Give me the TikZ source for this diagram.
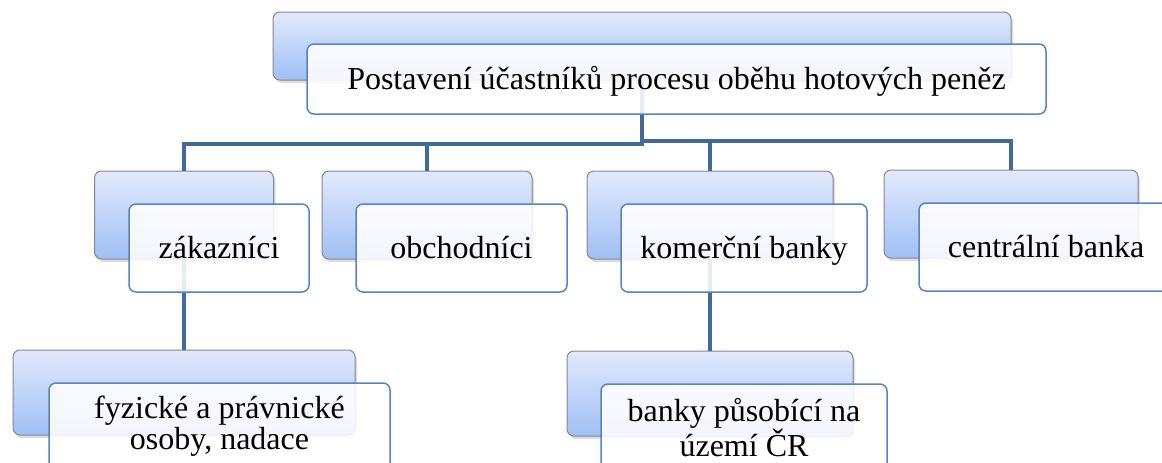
\documentclass[tikz,border=0pt]{standalone}
\usepackage{fontspec}
\setmainfont{Liberation Serif}
\usetikzlibrary{shadows}

\definecolor{linkblue}{RGB}{65,105,155}
\definecolor{frameblue}{RGB}{84,132,196}
\definecolor{gradtop}{RGB}{225,234,252}
\definecolor{gradbot}{RGB}{160,191,245}
\definecolor{backframe}{RGB}{135,135,140}

\tikzset{
  backbox/.style={rectangle, rounded corners=7pt, draw=backframe, line width=1pt,
    top color=gradtop, bottom color=gradbot, inner sep=0pt, outer sep=0pt,
    drop shadow={shadow xshift=2pt, shadow yshift=-3pt, opacity=0.28}},
  frontbox/.style={rectangle, rounded corners=7pt, draw=frameblue, line width=1.5pt,
    fill=white, fill opacity=0.88, text opacity=1, inner sep=0pt, outer sep=0pt,
    font=\fontsize{32}{31}\selectfont, align=center},
  oneline/.style={text height=22pt, text depth=1pt},
  conn/.style={draw=linkblue, line width=4.5pt},
}

\begin{document}
\begin{tikzpicture}[x=1pt, y=-1pt]
  \useasboundingbox (0,0) rectangle (1162,463);
  \clip (0,0) rectangle (1162,463);

  % rear gradient panels
  \node[backbox, minimum width=738pt, minimum height=68pt] (pb)  at (642,46)    {};
  \node[backbox, minimum width=179pt, minimum height=88pt] (cb1) at (184,215)   {};
  \node[backbox, minimum width=210pt, minimum height=88pt] (cb2) at (427,215)   {};
  \node[backbox, minimum width=246pt, minimum height=88pt] (cb3) at (710,215)   {};
  \node[backbox, minimum width=254pt, minimum height=88pt] (cb4) at (1011,214)  {};
  \node[backbox, minimum width=342pt, minimum height=85pt] (gb1) at (184,392.5) {};
  \node[backbox, minimum width=286pt, minimum height=85pt] (gb2) at (710,393.5) {};

  % hierarchy connectors
  \coordinate (barL) at (0,144);
  \coordinate (barR) at (0,141);
  \draw[conn] (pb.south) -- (pb.south |- barL) -| (cb1.north);
  \draw[conn] (pb.south) -- (pb.south |- barL) -| (cb2.north);
  \draw[conn] (pb.south) -- (pb.south |- barR) -| (cb3.north);
  \draw[conn] (pb.south) -- (pb.south |- barR) -| (cb4.north);
  \draw[conn] (cb1.south) -- (gb1.north);
  \draw[conn] (cb3.south) -- (gb2.north);

  % front text panels
  \node[frontbox, oneline, minimum width=739pt, minimum height=70pt] (pf) at (676.5,79)
    {Postavení účastníků procesu oběhu hotových peněz};
  \node[frontbox, oneline, minimum width=180pt, minimum height=88pt] (cf1) at (219,248) {zákazníci};
  \node[frontbox, oneline, minimum width=211pt, minimum height=88pt] (cf2) at (461.5,248) {obchodníci};
  \node[frontbox, oneline, minimum width=246pt, minimum height=88pt] (cf3) at (744,248) {komerční banky};
  \node[frontbox, oneline, minimum width=254pt, minimum height=88pt] (cf4) at (1046,247) {centrální banka};
  \node[frontbox, minimum width=341pt, minimum height=87pt] (gf1) at (219.5,426.5)
    {fyzické a právnické\\osoby, nadace};
  \node[frontbox, minimum width=286pt, minimum height=87pt] (gf2) at (744,427.5)
    {banky působící na\\území ČR};
\end{tikzpicture}
\end{document}
